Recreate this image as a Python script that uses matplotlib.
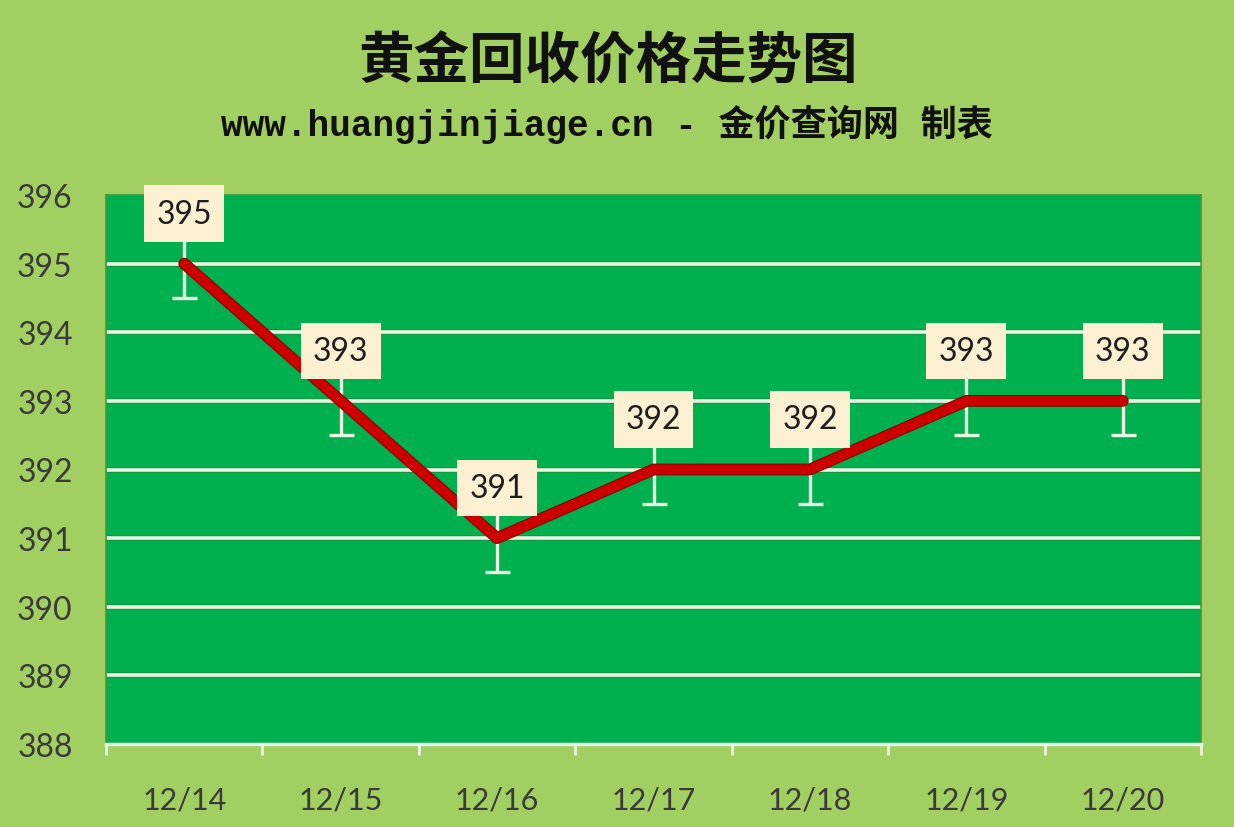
import matplotlib
matplotlib.use("Agg")
import matplotlib.pyplot as plt
from matplotlib.patches import Rectangle
import matplotlib.patheffects as pe

# ---- data ----
dates = ["12/14", "12/15", "12/16", "12/17", "12/18", "12/19", "12/20"]
prices = [395, 393, 391, 392, 392, 393, 393]
err = [0.5, 0.5, 0.5, 0.5, 0.5, 0.5, 0.5]
yticks = [388, 389, 390, 391, 392, 393, 394, 395, 396]
title = "黄金回收价格走势图"
subtitle = "www.huangjinjiage.cn - 金价查询网 制表"

BG = "#A2CF62"
PLOT = "#00B04E"
GRID = "#E9F4E2"
RED = "#CC0000"
BOX = "#FCF0D3"
TXT = "#3A3A3A"

fig = plt.figure(figsize=(12.34, 8.28), dpi=100, facecolor=BG)
ax = fig.add_axes([106/1234, 1-745/828, (1201-106)/1234, (745-196)/828])
ax.set_facecolor(PLOT)

x = list(range(len(dates)))
ax.set_xlim(-0.5, len(dates) - 0.5)
ax.set_ylim(yticks[0], yticks[-1])

# gridlines (with faint shadow)
for v in yticks[1:-1]:
    ax.axhline(v, color="#1E8A3A", lw=4.2, zorder=1, alpha=0.6)
    ax.axhline(v, color=GRID, lw=2.6, zorder=1.1)

# error bars
ax.errorbar(x, prices, yerr=err, fmt="none", ecolor=GRID, elinewidth=2.4,
            capsize=9, capthick=2.4, zorder=2)

# line
ax.plot(x, prices, color=RED, lw=7, solid_capstyle="round",
         solid_joinstyle="round", zorder=3,
         path_effects=[pe.Stroke(linewidth=8.5, foreground="#8E0000"), pe.Normal()])

# label boxes
bw, bh, off = 0.51, 0.82, 0.73
for xi, v in zip(x, prices):
    r = Rectangle((xi - bw/2, v + off - bh/2), bw, bh, facecolor=BOX,
                  edgecolor="none", zorder=4, clip_on=False)
    ax.add_patch(r)
    ax.text(xi, v + off, f"{v}", ha="center", va="center", fontsize=23,
            family="Lato", color="#1E1E1E", zorder=5, clip_on=False)

# axes styling
for s in ["left", "top", "right"]:
    ax.spines[s].set_color("#3C9B3E")
    ax.spines[s].set_linewidth(1.2)
ax.spines["bottom"].set_color(GRID)
ax.spines["bottom"].set_linewidth(2.5)
ax.spines["bottom"].set_zorder(6)

ax.set_yticks(yticks)
ax.set_yticklabels([str(t) for t in yticks], fontsize=23, family="Lato", color=TXT)
ax.tick_params(axis="y", length=0, pad=24)

ax.set_xticks([i - 0.5 for i in range(len(dates) + 1)])
ax.set_xticklabels([])
ax.tick_params(axis="x", which="major", length=8, width=2, color=GRID, direction="out")
ax.set_xticks(x, minor=True)
ax.set_xticklabels(dates, minor=True, fontsize=22, family="Lato", color=TXT)
ax.tick_params(axis="x", which="minor", length=0, pad=30)

fig.text(608/1234, 1-62/828, title, ha="center", va="center", fontsize=40,
         fontweight="bold", family=["Noto Sans CJK SC"], color="#111111")
fig.text(607/1234, 1-124/828, subtitle, ha="center", va="center", fontsize=26,
         fontweight="bold", family=["Liberation Mono", "Noto Sans CJK SC"],
         color="#111111")

fig.savefig("out.png", dpi=100, facecolor=BG)
